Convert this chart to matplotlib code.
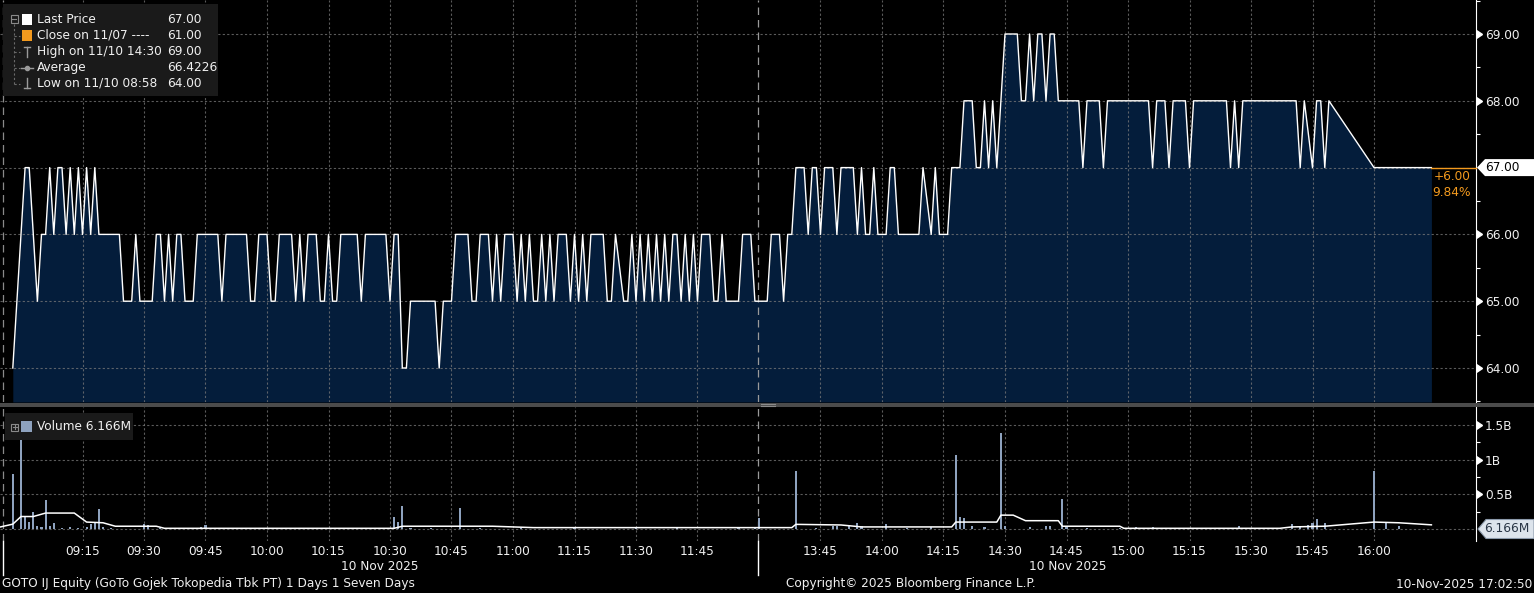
import numpy as np
import matplotlib.pyplot as plt
from matplotlib.patches import Rectangle, Polygon
from matplotlib.lines import Line2D
from matplotlib.markers import CARETRIGHTBASE
from matplotlib.transforms import IdentityTransform

W, H = 1534, 593

# Цена: вершины ломаной (время, цена)
price_times = [
    "08:58", "09:01", "09:02", "09:04", "09:05", "09:06", "09:07", "09:08", "09:09", "09:10",
    "09:11", "09:12", "09:13", "09:14", "09:15", "09:16", "09:17", "09:18", "09:19", "09:24",
    "09:25", "09:27", "09:28", "09:29", "09:32", "09:33", "09:34", "09:35", "09:36", "09:37",
    "09:38", "09:39", "09:40", "09:42", "09:43", "09:48", "09:49", "09:50", "09:55", "09:56",
    "09:57", "09:58", "10:00", "10:01", "10:02", "10:03", "10:06", "10:07", "10:08", "10:09",
    "10:10", "10:12", "10:13", "10:14", "10:15", "10:16", "10:17", "10:18", "10:22", "10:23",
    "10:24", "10:29", "10:30", "10:31", "10:32", "10:33", "10:34", "10:35", "10:41", "10:42",
    "10:43", "10:45", "10:46", "10:49", "10:50", "10:51", "10:52", "10:54", "10:55", "10:56",
    "10:57", "10:58", "11:00", "11:01", "11:02", "11:03", "11:04", "11:05", "11:06", "11:07",
    "11:08", "11:09", "11:10", "11:11", "11:13", "11:14", "11:15", "11:16", "11:17", "11:18",
    "11:19", "11:22", "11:23", "11:24", "11:25", "11:27", "11:28", "11:29", "11:30", "11:31",
    "11:32", "11:33", "11:34", "11:35", "11:36", "11:37", "11:38", "11:39", "11:40", "11:41",
    "11:42", "11:43", "11:44", "11:45", "11:46", "11:48", "11:49", "11:50", "11:51", "11:52",
    "11:55", "11:56", "11:58", "11:59",
    "13:30", "13:32", "13:33", "13:35", "13:36", "13:37", "13:38", "13:39", "13:41", "13:42",
    "13:43", "13:44", "13:45", "13:46", "13:48", "13:49", "13:50", "13:53", "13:54", "13:55",
    "13:56", "13:57", "13:58", "13:59", "14:01", "14:02", "14:03", "14:04", "14:09", "14:10",
    "14:12", "14:13", "14:14", "14:16", "14:17", "14:19", "14:20", "14:22", "14:23", "14:24",
    "14:25", "14:26", "14:27", "14:28", "14:30", "14:33", "14:34", "14:35", "14:36", "14:37",
    "14:38", "14:39", "14:40", "14:41", "14:42", "14:43", "14:48", "14:49", "14:50", "14:53",
    "14:54", "14:55", "15:05", "15:06", "15:07", "15:09", "15:10", "15:11", "15:14", "15:15",
    "15:16", "15:24", "15:25", "15:26", "15:27", "15:28", "15:41", "15:42", "15:43", "15:45",
    "15:46", "15:47", "15:48", "15:49", "16:00", "16:14",
]
price_values = [
    64, 67, 67, 65, 66, 66, 67, 66, 67, 67,
    66, 67, 66, 67, 66, 67, 66, 67, 66, 66,
    65, 65, 66, 65, 65, 66, 66, 65, 66, 65,
    66, 66, 65, 65, 66, 66, 65, 66, 66, 65,
    65, 66, 66, 65, 65, 66, 66, 65, 66, 65,
    66, 66, 65, 65, 66, 65, 65, 66, 66, 65,
    66, 66, 65, 66, 66, 64, 64, 65, 65, 64,
    65, 65, 66, 66, 65, 65, 66, 66, 65, 66,
    65, 66, 66, 65, 66, 65, 66, 65, 65, 66,
    65, 66, 65, 66, 66, 65, 66, 65, 66, 65,
    66, 66, 65, 65, 66, 65, 65, 66, 65, 66,
    65, 66, 65, 66, 65, 66, 65, 66, 66, 65,
    66, 65, 66, 65, 66, 66, 65, 65, 66, 65,
    65, 66, 66, 65,
    65, 65, 66, 66, 65, 66, 66, 67, 67, 66,
    67, 67, 66, 67, 67, 66, 67, 67, 66, 67,
    66, 66, 67, 66, 66, 67, 67, 66, 66, 67,
    66, 67, 66, 66, 67, 67, 68, 68, 67, 67,
    68, 67, 68, 67, 69, 69, 68, 68, 69, 68,
    69, 69, 68, 69, 69, 68, 68, 67, 68, 68,
    67, 68, 68, 67, 68, 68, 67, 68, 68, 67,
    68, 68, 67, 68, 67, 68, 68, 67, 68, 67,
    68, 68, 67, 68, 67, 67,
]

# Объём, млн
vol_times = [
    "08:58", "09:00", "09:01", "09:02", "09:03", "09:04", "09:05", "09:06", "09:07", "09:08",
    "09:10", "09:12", "09:14", "09:16", "09:17", "09:18", "09:19", "09:20", "09:22", "09:30",
    "09:31", "09:34", "09:44", "09:45", "09:46", "09:52", "10:05", "10:12", "10:22", "10:31",
    "10:32", "10:33", "10:35", "10:40", "10:47", "10:52", "11:02", "11:15", "11:30", "11:40",
    "11:55", "11:59",
    "13:30", "13:39", "13:44", "13:48", "13:49", "13:52", "13:54", "13:55", "14:01", "14:06",
    "14:12", "14:18", "14:19", "14:20", "14:22", "14:25", "14:29", "14:30", "14:36", "14:40",
    "14:41", "14:44", "14:45", "14:50", "14:58", "15:02", "15:06", "15:15", "15:27", "15:30",
    "15:35", "15:40", "15:42", "15:44", "15:45", "15:46", "15:48", "16:00", "16:03", "16:06",
    "16:14",
]
vol_values = [
    790, 1670, 180, 100, 240, 50, 30, 420, 40, 80,
    20, 25, 20, 30, 70, 80, 290, 30, 15, 70,
    60, 20, 25, 60, 20, 10, 15, 10, 12, 170,
    100, 330, 20, 15, 300, 15, 10, 12, 25, 10,
    15, 20,
    160, 830, 20, 40, 50, 50, 90, 50, 70, 20,
    25, 1070, 170, 160, 40, 30, 1380, 40, 25, 50,
    50, 430, 30, 15, 20, 30, 25, 15, 50, 20,
    15, 70, 50, 60, 80, 140, 90, 830, 80, 50,
    6.166,
]

# Скользящее среднее объёма, млн
ma_times = [
    "08:55", "08:58", "09:00", "09:03", "09:06", "09:13", "09:16", "09:20", "09:23", "09:33",
    "09:35", "10:31", "10:33", "10:55", "11:05", "11:59",
    "13:30", "13:38", "13:39", "13:50", "13:55", "14:17", "14:18", "14:28", "14:29", "14:32",
    "14:35", "14:43", "14:44", "14:58", "14:59", "15:37", "15:40", "15:48", "16:00", "16:06",
    "16:14",
]
ma_values = [
    30, 70, 180, 180, 230, 230, 100, 90, 40, 40,
    10, 10, 40, 40, 20, 20,
    20, 20, 67, 58, 30, 30, 100, 100, 200, 200,
    120, 120, 40, 40, 10, 10, 30, 40, 100, 90,
    60,
]

price_levels = [64, 65, 66, 67, 68, 69]
price_labels = ["64.00", "65.00", "66.00", "", "68.00", "69.00"]
vol_levels = [0, 500, 1000, 1500]
vol_labels = ["", "0.5B", "1B", "1.5B"]
time_ticks = ["09:15", "09:30", "09:45", "10:00", "10:15", "10:30", "10:45", "11:00",
              "11:15", "11:30", "11:45", "13:45", "14:00", "14:15", "14:30", "14:45",
              "15:00", "15:15", "15:30", "15:45", "16:00"]
last_price = 67.00
last_vol = 6.166

legend_names = ["Last Price", "Close on 11/07 ----", "High on 11/10 14:30", "Average",
                "Low on 11/10 08:58"]
legend_vals = ["67.00", "61.00", "69.00", "66.4226", "64.00"]

TXT = '#f0f0f0'
GRID = '#7a7a7a'
FILL = '#041d3b'
ORANGE = '#f39a1e'
VOLC = '#8ea2be'
FS = 8.75


# Перевод времени в торговые минуты (обеденный перерыв вырезан)
def tidx(s):
    h, m = map(int, s.split(':'))
    t = h * 60 + m
    if t < 12 * 60:
        return t - 9 * 60
    return t - (13 * 60 + 30) + 180


def fx(px):
    return px / W


def fy(py):
    return 1 - py / H


fig = plt.figure(figsize=(W / 100, H / 100), dpi=100, facecolor='black')
ax = fig.add_axes([0, fy(402), fx(1476), 402 / H])
axv = fig.add_axes([0, fy(541), fx(1476), 134 / H], sharex=ax)

xlim = (-21 / 4.10, (1476 - 21) / 4.10)
break_x = tidx("13:30") - 0.25
day_x = xlim[0] + 0.7
xt = [tidx(t) for t in time_ticks]

for a in (ax, axv):
    a.set_facecolor('black')
    for s in ('top', 'left', 'bottom'):
        a.spines[s].set_visible(False)
    a.spines['right'].set_color('white')
    a.yaxis.tick_right()
    a.set_xticks(xt)
    a.grid(True, color=GRID, linestyle=(0, (2, 2)), linewidth=0.8, alpha=0.75)
    a.tick_params(axis='y', which='major', length=0, pad=6.5, labelcolor=TXT, labelsize=FS)
    a.tick_params(axis='y', which='minor', length=3, color='white', width=0.8)
    a.axvline(break_x, color='#9a9a9a', linestyle=(0, (6, 4)), linewidth=0.9)
    a.axvline(day_x, color='#8a8a8a', linestyle=(0, (6, 4)), linewidth=0.9)
ax.set_xlim(*xlim)

# Верхняя панель: цена
px = [tidx(t) for t in price_times]
ax.set_ylim(64 - 34 / 66.8, 69 + 34 / 66.8)
ax.fill_between(px, price_values, ax.get_ylim()[0], color=FILL, linewidth=0, zorder=1)
ax.plot(px, price_values, color='white', linewidth=1.0, zorder=2)
ax.set_yticks(price_levels)
ax.set_yticklabels(price_labels)
ax.set_yticks(np.arange(63.5, 70, 1.0), minor=True)
ax.tick_params(axis='x', bottom=False, labelbottom=False)
ax.plot(np.ones(5), [64, 65, 66, 68, 69], ls='', marker=CARETRIGHTBASE, ms=5.5, color='white',
        transform=ax.get_yaxis_transform(), clip_on=False)

ax.plot([px[-1], xlim[1]], [last_price, last_price], color=ORANGE, linewidth=1, clip_on=False, zorder=3)
ax.annotate('+6.00', xy=(1, last_price), xycoords=ax.get_yaxis_transform(), xytext=(-4, -6.5),
            textcoords='offset points', ha='right', va='center', color=ORANGE, fontsize=FS)
ax.annotate('9.84%', xy=(1, last_price), xycoords=ax.get_yaxis_transform(), xytext=(-4, -18),
            textcoords='offset points', ha='right', va='center', color=ORANGE, fontsize=FS)

# Нижняя панель: объём
vx = [tidx(t) for t in vol_times]
axv.set_ylim(-12 * 14.43, 122 * 14.43)
axv.bar(vx, vol_values, width=0.5, color=VOLC, linewidth=0, zorder=2)
axv.plot([tidx(t) for t in ma_times], ma_values, color='white', linewidth=1.1, zorder=3)
axv.set_yticks(vol_levels)
axv.set_yticklabels(vol_labels)
axv.set_yticks([250, 750, 1250], minor=True)
axv.spines['bottom'].set_color('white')
axv.set_xticklabels(time_ticks)
axv.tick_params(axis='x', length=0, pad=3, labelcolor=TXT, labelsize=FS)
axv.plot(np.ones(3), [500, 1000, 1500], ls='', marker=CARETRIGHTBASE, ms=5.5, color='white',
         transform=axv.get_yaxis_transform(), clip_on=False)

# Разделитель панелей
fig.add_artist(Rectangle((0, fy(406.5)), 1, 4 / H, transform=fig.transFigure,
                         facecolor='#4b4b4b', edgecolor='none'))
for yy in (403.5, 405.5):
    fig.add_artist(Line2D([fx(761), fx(775)], [fy(yy)] * 2, color='#8a8a8a', linewidth=0.8))

# Метки последнего значения
fig.canvas.draw()
yd = ax.transData.transform((0, last_price))[1]
fig.add_artist(Polygon([(1477, yd), (1485, yd + 8.5), (W, yd + 8.5), (W, yd - 8.5), (1485, yd - 8.5)],
                       closed=True, transform=IdentityTransform(), facecolor='white', edgecolor='none'))
fig.text(fx(1485), yd / H, '67.00', color='black', fontsize=FS, va='center')
yv = axv.transData.transform((0, 0))[1]
fig.add_artist(Polygon([(1478, yv), (1486, yv + 9.5), (W, yv + 9.5), (W, yv - 9.5), (1486, yv - 9.5)],
                       closed=True, transform=IdentityTransform(), facecolor='#dde4ec', edgecolor='#8c9aab',
                       linewidth=0.8))
fig.text(fx(1484), yv / H, '6.166M', color='#2a3646', fontsize=FS, va='center')

# Линии дня под осью
for xv in (day_x, break_x):
    xd = axv.transData.transform((xv, 0))[0] / W
    fig.add_artist(Line2D([xd, xd], [fy(541), fy(575)], color='white', linewidth=1))


def box(x, y, w, h, **kw):
    fig.add_artist(Rectangle((fx(x), fy(y + h)), w / W, h / H, transform=fig.transFigure, **kw))


def seg(xs, ys, **kw):
    fig.add_artist(Line2D([fx(v) for v in xs], [fy(v) for v in ys], **kw))


# Легенда цены
box(3, 4, 215, 92, facecolor='#1a1a1a', edgecolor='none')
box(10.5, 15.5, 7, 7, facecolor='none', edgecolor='#8a8a8a', linewidth=0.8)
seg([12, 16], [19, 19], color='#8a8a8a', linewidth=0.8)
seg([14, 14], [24, 84], color='#6a6a6a', linewidth=0.8, linestyle=(0, (2, 2)))
for i in range(1, 5):
    seg([14, 20], [19.5 + 16 * i] * 2, color='#6a6a6a', linewidth=0.8, linestyle=(0, (2, 2)))
box(22, 14.5, 10, 10, facecolor='white', edgecolor='none')
box(22, 30.5, 10, 10, facecolor=ORANGE, edgecolor='none')
seg([27, 27], [47, 57], color='#9a9a9a', linewidth=1)
seg([24, 30], [47, 47], color='#9a9a9a', linewidth=1)
seg([21, 33], [67.5, 67.5], color='#9a9a9a', linewidth=1)
fig.add_artist(Line2D([fx(27)], [fy(67.5)], marker='o', ms=3, color='#9a9a9a'))
seg([27, 27], [78, 88], color='#9a9a9a', linewidth=1)
seg([24, 30], [88, 88], color='#9a9a9a', linewidth=1)
for i, (name, val) in enumerate(zip(legend_names, legend_vals)):
    yy = 19.5 + 16 * i
    fig.text(fx(37), fy(yy), name, color=TXT, fontsize=FS, va='center')
    fig.text(fx(167), fy(yy), val, color=TXT, fontsize=FS, va='center')

# Легенда объёма
box(5, 413, 128, 27, facecolor='#1a1a1a', edgecolor='none')
box(11, 423.5, 7, 7, facecolor='none', edgecolor='#8a8a8a', linewidth=0.8)
seg([12.5, 16.5], [427, 427], color='#8a8a8a', linewidth=0.8)
seg([14.5, 14.5], [425, 429], color='#8a8a8a', linewidth=0.8)
box(21, 421, 11, 11, facecolor=VOLC, edgecolor='none')
fig.text(fx(37), fy(427), 'Volume 6.166M', color=TXT, fontsize=FS, va='center')

# Подписи дат и подвал
fig.text(fx(380), fy(566), '10 Nov 2025', color=TXT, fontsize=FS, ha='center', va='center')
fig.text(fx(1068), fy(566), '10 Nov 2025', color=TXT, fontsize=FS, ha='center', va='center')
fig.text(fx(2), fy(584), 'GOTO IJ Equity (GoTo Gojek Tokopedia Tbk PT) 1 Days 1 Seven Days',
         color=TXT, fontsize=FS, va='center')
fig.text(fx(786), fy(584), 'Copyright\u00a9 2025 Bloomberg Finance L.P.', color=TXT, fontsize=FS, va='center')
fig.text(fx(1532), fy(584), '10-Nov-2025 17:02:50', color=TXT, fontsize=FS, ha='right', va='center')

fig.savefig('out.png', dpi=100, facecolor='black')
